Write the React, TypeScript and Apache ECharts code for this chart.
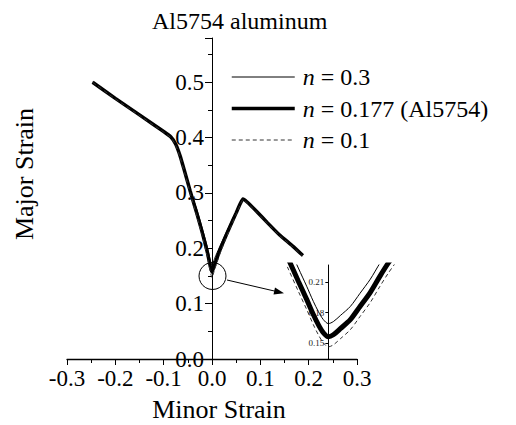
import React, { useEffect, useRef } from "react";
import * as echarts from "echarts";

const FONT = "Liberation Serif";

// Main plot: minor strain (x) and major strain (y) for the three hardening exponents
const minorStrain = [-0.247, -0.2, -0.15, -0.1, -0.085, -0.075, -0.066, -0.057, -0.045, -0.031, -0.021, -0.01, 0.0, 0.006, 0.016, 0.027, 0.037, 0.05, 0.058, 0.064, 0.072, 0.093, 0.115, 0.14, 0.167, 0.188];
const majorN03 = [0.5, 0.472, 0.442, 0.412, 0.402, 0.39, 0.37, 0.343, 0.306, 0.269, 0.239, 0.204, 0.169, 0.183, 0.203, 0.224, 0.243, 0.267, 0.282, 0.29, 0.285, 0.267, 0.248, 0.226, 0.205, 0.189];
const majorN0177 = [0.5, 0.471, 0.441, 0.411, 0.401, 0.388, 0.367, 0.34, 0.303, 0.262, 0.231, 0.194, 0.157, 0.172, 0.196, 0.219, 0.239, 0.264, 0.28, 0.289, 0.284, 0.266, 0.246, 0.224, 0.204, 0.187];
const majorN01 = [0.5, 0.47, 0.44, 0.41, 0.4, 0.386, 0.364, 0.337, 0.299, 0.257, 0.225, 0.186, 0.147, 0.163, 0.189, 0.214, 0.235, 0.261, 0.278, 0.288, 0.283, 0.265, 0.245, 0.223, 0.203, 0.186];

// Inset (zoom around the minimum)
const insetMinor = [-0.014, -0.012, -0.009, -0.0065, -0.0045, -0.003, -0.0015, 0.0, 0.0015, 0.0036, 0.0066, 0.0095, 0.0126, 0.0155, 0.018, 0.021];
const insetN03 = [0.261, 0.246, 0.224, 0.206, 0.191, 0.181, 0.173, 0.169, 0.171, 0.177, 0.186, 0.199, 0.213, 0.229, 0.242, 0.256];
const insetN0177 = [0.248, 0.233, 0.211, 0.193, 0.178, 0.168, 0.16, 0.156, 0.158, 0.164, 0.173, 0.186, 0.2, 0.216, 0.229, 0.243];
const insetN01 = [0.238, 0.223, 0.201, 0.183, 0.168, 0.158, 0.15, 0.146, 0.148, 0.154, 0.163, 0.176, 0.19, 0.206, 0.219, 0.233];
const insetTicks = [0.15, 0.18, 0.21];

const legendLabels: Record<string, string> = {
  n03: "{i|n}{r| = 0.3}",
  n0177: "{i|n}{r| = 0.177 (Al5754)}",
  n01: "{i|n}{r| = 0.1}",
};

const zip = (xs: number[], ys: number[]) => xs.map((x, i) => [x, ys[i]]);

// grid geometry
const G1 = { left: 67, right: 159, top: 38, bottom: 66 };
const X1 = { min: -0.3, max: 0.3 };
const G2 = { left: 285, right: 121, top: 265, bottom: 66 };
const X2 = { min: -0.013, max: 0.02 };
const zeroOffset = (g: any, x: any) => -((0 - x.min) / (x.max - x.min)) * (516 - g.left - g.right);

export default function App() {
  const ref = useRef<HTMLDivElement>(null);
  useEffect(() => {
    if (!ref.current) return;
    const chart = echarts.init(ref.current, null, { renderer: "svg" });
    const thin = { color: "#000", width: 1 };
    const thick = { color: "#000", width: 3.5 };
    const dashed = { color: "#333", width: 1, type: [4, 3] as any };
    const common = { type: "line", symbol: "none", showSymbol: false, color: "#000", itemStyle: { color: "#000" } };
    chart.setOption({
      animation: false,
      backgroundColor: "#fff",
      textStyle: { fontFamily: FONT },
      title: {
        text: "Al5754 aluminum",
        left: 147,
        top: 4,
        textStyle: { fontFamily: FONT, fontSize: 24, fontWeight: "normal", color: "#000" },
      },
      legend: {
        orient: "vertical",
        left: 225,
        top: 60,
        itemWidth: 63,
        itemHeight: 12,
        itemGap: 7.5,
        data: [
          { name: "n03", lineStyle: { width: 1, color: "#000" } },
          { name: "n0177", lineStyle: { width: 3.5, color: "#000" } },
          { name: "n01", lineStyle: { width: 1, color: "#333", type: [4, 3] } },
        ],
        itemStyle: { opacity: 0 },
        formatter: (name: string) => legendLabels[name],
        textStyle: {
          fontFamily: FONT,
          fontSize: 24,
          color: "#000",
          padding: [0, 0, 0, 3],
          rich: {
            i: { fontFamily: FONT, fontSize: 24, fontStyle: "italic", color: "#000", lineHeight: 26 },
            r: { fontFamily: FONT, fontSize: 24, color: "#000", lineHeight: 26 },
          },
        },
      },
      grid: [G1, G2],
      xAxis: [
        {
          type: "value",
          gridIndex: 0,
          position: "bottom",
          min: X1.min,
          max: X1.max,
          interval: 0.1,
          splitLine: { show: false },
          axisLine: { show: true, onZero: false, lineStyle: { color: "#000", width: 1.3 } },
          axisTick: { show: true, length: 6, lineStyle: { color: "#000" } },
          minorTick: { show: true, splitNumber: 2, length: 4, lineStyle: { color: "#000" } },
          axisLabel: {
            fontFamily: FONT,
            fontSize: 23,
            color: "#000",
            margin: 8,
            formatter: (v: number) => v.toFixed(1),
          },
        },
        {
          type: "value",
          gridIndex: 1,
          min: X2.min,
          max: X2.max,
          show: false,
        },
      ],
      yAxis: [
        {
          type: "value",
          gridIndex: 0,
          min: 0,
          max: 0.58,
          interval: 0.1,
          offset: zeroOffset(G1, X1),
          splitLine: { show: false },
          axisLine: { show: true, onZero: false, lineStyle: { color: "#000", width: 1 } },
          axisTick: { length: 7, lineStyle: { color: "#000" } },
          minorTick: { show: true, splitNumber: 2, length: 4, lineStyle: { color: "#000" } },
          axisLabel: {
            fontFamily: FONT,
            fontSize: 23,
            color: "#000",
            margin: 8,
            showMaxLabel: false,
            formatter: (v: number) => (Math.abs(v * 10 - Math.round(v * 10)) < 1e-6 ? v.toFixed(1) : ""),
          },
        },
        {
          type: "value",
          gridIndex: 1,
          min: 0.134,
          max: 0.227,
          offset: zeroOffset(G2, X2),
          splitLine: { show: false },
          axisLine: { show: true, onZero: false, lineStyle: { color: "#000", width: 1 } },
          axisTick: { length: 3, customValues: insetTicks, lineStyle: { color: "#000" } },
          axisLabel: {
            customValues: insetTicks,
            fontFamily: FONT,
            fontSize: 9,
            color: "#222",
            margin: 4,
            formatter: (v: number) => String(Number(v.toFixed(2))),
          },
        },
      ],
      series: [
        { ...common, name: "n03", xAxisIndex: 0, yAxisIndex: 0, data: zip(minorStrain, majorN03), smooth: 0.15, lineStyle: thin },
        { ...common, name: "n0177", xAxisIndex: 0, yAxisIndex: 0, data: zip(minorStrain, majorN0177), smooth: 0.15, lineStyle: thick, z: 3 },
        { ...common, name: "n01", xAxisIndex: 0, yAxisIndex: 0, data: zip(minorStrain, majorN01), smooth: 0.15, lineStyle: dashed },
        { ...common, name: "inset n03", xAxisIndex: 1, yAxisIndex: 1, data: zip(insetMinor, insetN03), smooth: 0.3, lineStyle: thin, clip: true },
        { ...common, name: "inset n0177", xAxisIndex: 1, yAxisIndex: 1, data: zip(insetMinor, insetN0177), smooth: 0.3, lineStyle: { color: "#000", width: 5 }, clip: true },
        { ...common, name: "inset n01", xAxisIndex: 1, yAxisIndex: 1, data: zip(insetMinor, insetN01), smooth: 0.3, lineStyle: dashed, clip: true },
      ],
      graphic: [
        {
          type: "text",
          x: 24,
          y: 174,
          rotation: Math.PI / 2,
          style: { text: "Major Strain", font: `26px "${FONT}"`, fill: "#000", align: "center", verticalAlign: "middle" },
        },
        {
          type: "text",
          x: 219,
          y: 409,
          style: { text: "Minor Strain", font: `26px "${FONT}"`, fill: "#000", align: "center", verticalAlign: "middle" },
        },
        {
          type: "circle",
          shape: { cx: 212.5, cy: 276, r: 13.5 },
          style: { fill: "none", stroke: "#000", lineWidth: 1 },
          z: 10,
        },
        {
          type: "line",
          shape: { x1: 227, y1: 280, x2: 276, y2: 291.4 },
          style: { stroke: "#000", lineWidth: 1 },
          z: 10,
        },
        {
          type: "polygon",
          shape: { points: [[284, 293.2], [273.5, 294.5], [275, 287.6]] },
          style: { fill: "#000" },
          z: 10,
        },
      ],
    });
    return () => chart.dispose();
  }, []);
  return (
    <div
      ref={ref}
      style={{ position: "fixed", left: 0, top: 0, width: 516, height: 425, background: "#fff" }}
    />
  );
}
